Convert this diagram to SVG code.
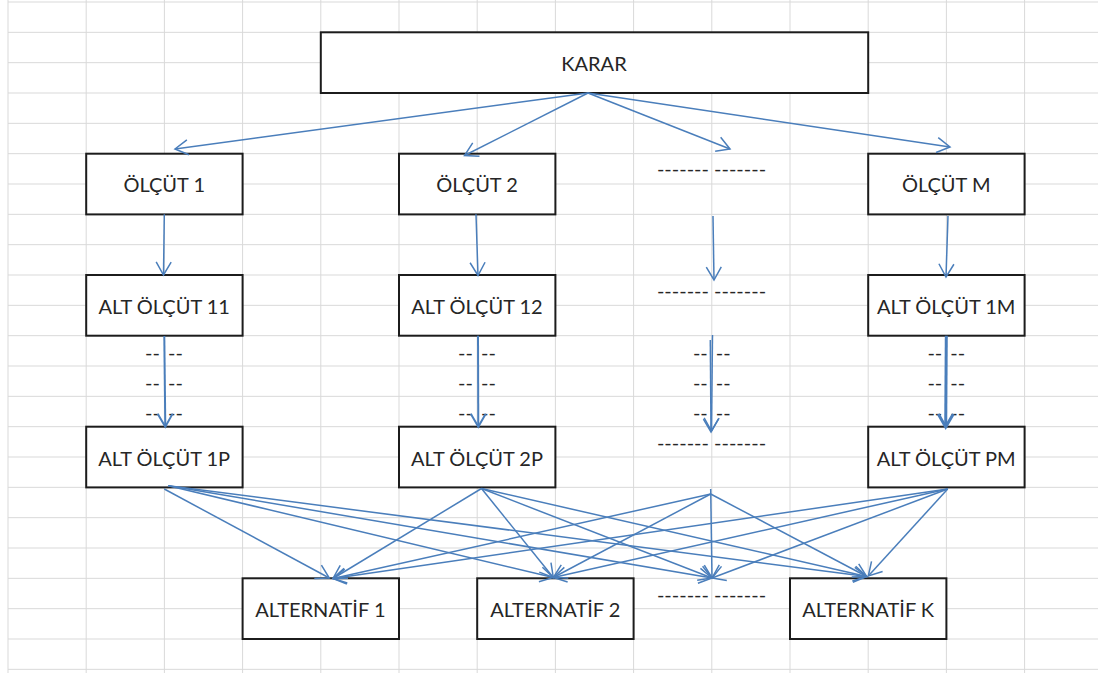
<svg xmlns="http://www.w3.org/2000/svg" width="1098" height="673" viewBox="0 0 1098 673">
  <defs>
    <style>
      .grid { stroke: #d9d9d9; stroke-width: 1; fill: none; }
      .box { fill: #ffffff; stroke: #1c1c1c; stroke-width: 2; }
      .lbl { font-family: Lato, "Liberation Sans", sans-serif; font-size: 20px; fill: #262626; text-anchor: middle; }
      .gap { word-spacing: 3px; }
      .con { stroke: #4a7ebb; stroke-width: 1.5; fill: none; marker-end: url(#ah); }
      .con2 { stroke: #4a7ebb; stroke-width: 2; fill: none; marker-end: url(#ah2); }
      .con3 { stroke: #4a7ebb; stroke-width: 3; fill: none; marker-end: url(#ah3); }
    </style>
    <marker id="ah" markerUnits="userSpaceOnUse" markerWidth="20" markerHeight="20" viewBox="-16 -10 20 20" refX="0" refY="0" orient="auto" overflow="visible">
      <path d="M-13,-7.5 L0,0 L-13,7.5" fill="none" stroke="#4a7ebb" stroke-width="1.5"/>
    </marker>
    <marker id="ah2" markerUnits="userSpaceOnUse" markerWidth="20" markerHeight="20" viewBox="-16 -10 20 20" refX="0" refY="0" orient="auto" overflow="visible">
      <path d="M-13,-7.5 L0,0 L-13,7.5" fill="none" stroke="#4a7ebb" stroke-width="2"/>
    </marker>
    <marker id="ah3" markerUnits="userSpaceOnUse" markerWidth="20" markerHeight="20" viewBox="-16 -10 20 20" refX="0" refY="0" orient="auto" overflow="visible">
      <path d="M-13,-7.5 L0,0 L-13,7.5" fill="none" stroke="#4a7ebb" stroke-width="3"/>
    </marker>
  </defs>
  <rect x="0" y="0" width="1098" height="673" fill="#ffffff"/>
  <g id="grid" class="grid">
    <path d="M8,0V673 M86.2,0V673 M164.4,0V673 M242.6,0V673 M320.8,0V673 M399,0V673 M477.2,0V673 M555.4,0V673 M633.6,0V673 M711.8,0V673 M790,0V673 M868.2,0V673 M946.4,0V673 M1024.6,0V673"/>
    <path d="M8,2H1098 M8,32.33H1098 M8,62.67H1098 M8,93H1098 M8,123.33H1098 M8,153.67H1098 M8,184H1098 M8,214.33H1098 M8,244.67H1098 M8,275H1098 M8,305.33H1098 M8,335.67H1098 M8,366H1098 M8,396.33H1098 M8,426.67H1098 M8,457H1098 M8,487.33H1098 M8,517.67H1098 M8,548H1098 M8,578.33H1098 M8,608.67H1098 M8,639H1098 M8,669.33H1098"/>
  </g>
  <g id="placeholders" class="lbl">
    <text x="711.5" y="176.4">------- -------</text>
    <text x="711.5" y="298">------- -------</text>
    <text x="711.5" y="450">------- -------</text>
    <text x="711.5" y="601.7">------- -------</text>
    <g class="gap">
      <text x="164" y="359.7">-- --</text>
      <text x="164" y="389.7">-- --</text>
      <text x="164" y="419.7">-- --</text>
      <text x="477" y="359.7">-- --</text>
      <text x="477" y="389.7">-- --</text>
      <text x="477" y="419.7">-- --</text>
      <text x="711.8" y="359.7">-- --</text>
      <text x="711.8" y="389.7">-- --</text>
      <text x="711.8" y="419.7">-- --</text>
      <text x="946.3" y="359.7">-- --</text>
      <text x="946.3" y="389.7">-- --</text>
      <text x="946.3" y="419.7">-- --</text>
    </g>
  </g>
  <g id="node-karar"><rect class="box" x="320.8" y="32.3" width="547.4" height="60.7"/><text class="lbl" x="594" y="71">KARAR</text></g>
  <g id="node-olcut-1"><rect class="box" x="86.2" y="153.7" width="156.4" height="60.7"/><text class="lbl" x="164.2" y="192.4">ÖLÇÜT 1</text></g>
  <g id="node-olcut-2"><rect class="box" x="399" y="153.7" width="156.4" height="60.7"/><text class="lbl" x="477" y="192.4">ÖLÇÜT 2</text></g>
  <g id="node-olcut-m"><rect class="box" x="868.2" y="153.7" width="156.4" height="60.7"/><text class="lbl" x="946.2" y="192.4">ÖLÇÜT M</text></g>
  <g id="node-alt-olcut-11"><rect class="box" x="86.2" y="275" width="156.4" height="60.7"/><text class="lbl" x="164.2" y="314">ALT ÖLÇÜT 11</text></g>
  <g id="node-alt-olcut-12"><rect class="box" x="399" y="275" width="156.4" height="60.7"/><text class="lbl" x="477" y="314">ALT ÖLÇÜT 12</text></g>
  <g id="node-alt-olcut-1m"><rect class="box" x="868.2" y="275" width="156.4" height="60.7"/><text class="lbl" x="946.2" y="314">ALT ÖLÇÜT 1M</text></g>
  <g id="node-alt-olcut-1p"><rect class="box" x="86.2" y="426.7" width="156.4" height="60.7"/><text class="lbl" x="164.2" y="465.6">ALT ÖLÇÜT 1P</text></g>
  <g id="node-alt-olcut-2p"><rect class="box" x="399" y="426.7" width="156.4" height="60.7"/><text class="lbl" x="477" y="465.6">ALT ÖLÇÜT 2P</text></g>
  <g id="node-alt-olcut-pm"><rect class="box" x="868.2" y="426.7" width="156.4" height="60.7"/><text class="lbl" x="946.2" y="465.6">ALT ÖLÇÜT PM</text></g>
  <g id="node-alternatif-1"><rect class="box" x="242.6" y="578.3" width="156.4" height="60.7"/><text class="lbl" x="320.4" y="617">ALTERNATİF 1</text></g>
  <g id="node-alternatif-2"><rect class="box" x="477.2" y="578.3" width="156.4" height="60.7"/><text class="lbl" x="555.3" y="617">ALTERNATİF 2</text></g>
  <g id="node-alternatif-k"><rect class="box" x="790" y="578.3" width="156.4" height="60.7"/><text class="lbl" x="868.2" y="617">ALTERNATİF K</text></g>
  <g id="connectors">
    <line class="con" x1="588" y1="93" x2="175" y2="149"/>
    <line class="con" x1="588" y1="93" x2="464.5" y2="155.5"/>
    <line class="con" x1="588" y1="93" x2="730" y2="149"/>
    <line class="con" x1="588" y1="93" x2="950" y2="147"/>
    <line class="con" x1="164.3" y1="214.3" x2="163.5" y2="275"/>
    <line class="con" x1="476" y1="214.3" x2="478" y2="275.5"/>
    <line class="con" x1="713" y1="216" x2="714" y2="280"/>
    <line class="con" x1="948" y1="216" x2="946" y2="277"/>
    <line class="con2" x1="164.3" y1="336" x2="165.3" y2="426.7"/>
    <line class="con2" x1="478" y1="335.7" x2="478.3" y2="426.7"/>
    <line class="con" x1="712.5" y1="335" x2="711.5" y2="431"/>
    <line class="con" x1="710.3" y1="340" x2="711" y2="432"/>
    <line class="con3" x1="946.3" y1="335.7" x2="945.7" y2="427"/>
    <line class="con" x1="164.3" y1="489" x2="329.3" y2="578"/>
    <line class="con" x1="168.3" y1="485.7" x2="553.3" y2="577.5"/>
    <line class="con" x1="168.3" y1="485.7" x2="712" y2="578"/>
    <line class="con" x1="168.3" y1="485.7" x2="866.7" y2="576.5"/>
    <line class="con" x1="481.5" y1="488.5" x2="333" y2="578.5"/>
    <line class="con" x1="481.5" y1="488.5" x2="553.3" y2="577.5"/>
    <line class="con" x1="481.5" y1="488.5" x2="712" y2="578"/>
    <line class="con" x1="481.5" y1="488.5" x2="866.7" y2="576.5"/>
    <line class="con" x1="710.7" y1="494" x2="333" y2="578.5"/>
    <line class="con" x1="710.7" y1="494" x2="553.3" y2="577.5"/>
    <line class="con" x1="710.7" y1="489" x2="712" y2="578"/>
    <line class="con" x1="710.7" y1="494" x2="866.7" y2="576.5"/>
    <line class="con" x1="947.7" y1="489" x2="333" y2="578.5"/>
    <line class="con" x1="947.7" y1="489" x2="553.3" y2="577.5"/>
    <line class="con" x1="947.7" y1="489" x2="712" y2="578"/>
    <line class="con" x1="947.7" y1="489" x2="868.3" y2="576"/>
  </g>
</svg>
